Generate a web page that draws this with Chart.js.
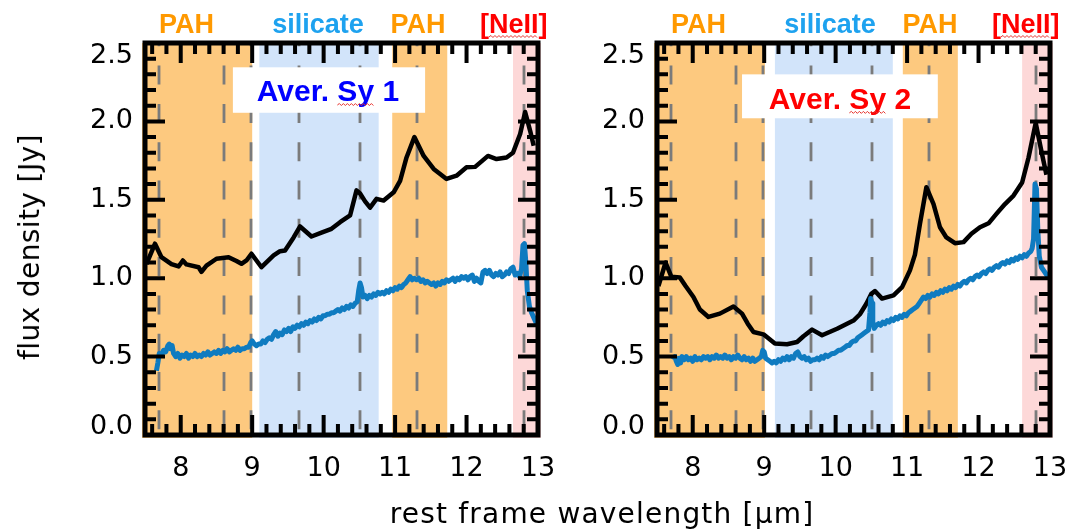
<!DOCTYPE html>
<html>
<head>
<meta charset="utf-8">
<script src="https://cdn.jsdelivr.net/npm/chart.js@4.4.1/dist/chart.umd.min.js"></script>
<style>
  html, body { margin: 0; padding: 0; background: #fff; }
  #wrap { position: relative; width: 1073px; height: 532px; overflow: hidden; }
  canvas { position: absolute; top: 0; }
  #c1 { left: 0; }
  #c2 { left: 540px; }
  .ttl { position: absolute; font-family: "DejaVu Sans", sans-serif; color: #000; white-space: nowrap; font-size: 28px; line-height: 34px; }
  #xt { left: 602px; top: 514px; transform: translate(-50%, -50%); letter-spacing: 1.2px; }
  #yt { left: 30px; top: 247px; transform: translate(-50%, -50%) rotate(-90deg); letter-spacing: 0.4px; }
</style>
</head>
<body>
<div id="wrap">
  <canvas id="c1" width="560" height="532"></canvas>
  <canvas id="c2" width="533" height="532"></canvas>
  <div id="xt" class="ttl">rest frame wavelength [µm]</div>
  <div id="yt" class="ttl">flux density [Jy]</div>
</div>
<script>
// ---- axis ticks ----
const xTickValues = [8, 9, 10, 11, 12, 13];
const xTickLabels = ['8', '9', '10', '11', '12', '13'];
const yTickValues = [0, 0.5, 1.0, 1.5, 2.0, 2.5];
const yTickLabels = ['0.0', '0.5', '1.0', '1.5', '2.0', '2.5'];

// ---- spectral feature bands and line positions (µm) ----
const bandNames = ['PAH', 'silicate', 'PAH', '[NeII]'];
const bandLabelAt = [8.08, 9.92, 11.32, 12.66];
const sy1BandFrom = [7.45, 9.10, 10.96, 12.65];
const sy1BandTo = [9.00, 10.77, 11.73, 13.05];
const sy2BandFrom = [7.45, 9.15, 10.94, 12.61];
const sy2BandTo = [9.01, 10.80, 11.71, 13.05];
const lineWaves = [7.7, 8.6, 8.99, 9.66, 10.51, 11.3, 12.81];

// ---- average Seyfert 1: low-resolution spectrum (black) ----
const sy1LowWave = [7.52, 7.64, 7.73, 7.87, 7.97, 8.03, 8.08, 8.25, 8.29, 8.36, 8.50, 8.67, 8.78, 8.85, 8.92, 8.99,
  9.13, 9.30, 9.39, 9.46, 9.58, 9.67, 9.83, 9.97, 10.11, 10.23, 10.37, 10.46, 10.51, 10.58, 10.65, 10.74, 10.84,
  10.98, 11.07, 11.16, 11.27, 11.40, 11.54, 11.72, 11.86, 12.00, 12.12, 12.30, 12.42, 12.56, 12.65, 12.75, 12.82,
  12.89, 12.94];
const sy1LowFlux = [1.09, 1.22, 1.134, 1.09, 1.075, 1.113, 1.088, 1.07, 1.04, 1.08, 1.124, 1.134, 1.11, 1.092, 1.113, 1.156,
  1.07, 1.145, 1.172, 1.177, 1.26, 1.33, 1.266, 1.29, 1.315, 1.357, 1.40, 1.56, 1.54, 1.49, 1.45, 1.506, 1.495,
  1.548, 1.62, 1.77, 1.90, 1.78, 1.697, 1.633, 1.654, 1.707, 1.71, 1.78, 1.76, 1.77, 1.80, 1.92, 2.06,
  1.94, 1.845];

// ---- average Seyfert 1: high-resolution spectrum (blue) ----
const sy1HighWave = [7.66, 7.68, 7.70, 7.73, 7.76, 7.79, 7.82, 7.84, 7.86, 7.88, 7.90, 7.93, 7.96, 7.99, 8.02, 8.05,
  8.08, 8.11, 8.14, 8.17, 8.20, 8.23, 8.26, 8.29, 8.32, 8.35, 8.38, 8.41, 8.44, 8.47, 8.50, 8.53, 8.56, 8.59, 8.62,
  8.65, 8.68, 8.71, 8.74, 8.77, 8.80, 8.83, 8.86, 8.89, 8.92, 8.95, 8.98, 9.00, 9.03, 9.06, 9.09, 9.12, 9.15, 9.18,
  9.21, 9.24, 9.27, 9.30, 9.33, 9.36, 9.39, 9.42, 9.45, 9.48, 9.51, 9.54, 9.57, 9.60, 9.63, 9.66, 9.69, 9.72, 9.75,
  9.78, 9.81, 9.84, 9.87, 9.90, 9.93, 9.96, 9.99, 10.02, 10.05, 10.08, 10.11, 10.14, 10.17, 10.20, 10.23, 10.26,
  10.29, 10.32, 10.35, 10.38, 10.41, 10.44, 10.47, 10.49, 10.51, 10.53, 10.55, 10.58, 10.61, 10.64, 10.67, 10.70,
  10.73, 10.76, 10.79, 10.82, 10.85, 10.88, 10.91, 10.94, 10.97, 11.00, 11.03, 11.06, 11.09, 11.12, 11.15, 11.18,
  11.21, 11.24, 11.27, 11.30, 11.33, 11.36, 11.39, 11.42, 11.45, 11.48, 11.51, 11.54, 11.57, 11.60, 11.63, 11.66,
  11.69, 11.72, 11.75, 11.78, 11.81, 11.84, 11.87, 11.90, 11.93, 11.96, 11.99, 12.02, 12.05, 12.08, 12.11, 12.14,
  12.17, 12.20, 12.23, 12.26, 12.29, 12.32, 12.35, 12.38, 12.41, 12.44, 12.47, 12.50, 12.53, 12.56, 12.59, 12.62,
  12.65, 12.68, 12.71, 12.74, 12.77, 12.79, 12.81, 12.83, 12.85, 12.88, 12.91, 12.94, 12.97, 12.99];
const sy1HighFlux = [0.41, 0.46, 0.52, 0.51, 0.54, 0.53, 0.57, 0.58, 0.55, 0.57, 0.52, 0.50, 0.52, 0.49, 0.51, 0.50,
  0.52, 0.49, 0.51, 0.50, 0.52, 0.50, 0.51, 0.50, 0.52, 0.51, 0.53, 0.51, 0.52, 0.53, 0.52, 0.54, 0.52, 0.54, 0.53,
  0.55, 0.53, 0.54, 0.55, 0.54, 0.56, 0.54, 0.55, 0.55, 0.56, 0.56, 0.59, 0.60, 0.58, 0.57, 0.58, 0.58, 0.60, 0.59,
  0.61, 0.62, 0.61, 0.64, 0.66, 0.63, 0.65, 0.64, 0.67, 0.66, 0.68, 0.66, 0.69, 0.68, 0.70, 0.69, 0.71, 0.70, 0.72,
  0.71, 0.73, 0.72, 0.74, 0.73, 0.75, 0.74, 0.76, 0.76, 0.77, 0.77, 0.78, 0.78, 0.79, 0.80, 0.79, 0.81,
  0.80, 0.82, 0.81, 0.83, 0.82, 0.84, 0.85, 0.92, 0.97, 0.94, 0.88, 0.89, 0.87, 0.89, 0.88, 0.90,
  0.89, 0.91, 0.90, 0.91, 0.90, 0.92, 0.91, 0.93, 0.92, 0.94, 0.93, 0.95, 0.94, 0.96, 0.97, 0.99,
  1.01, 0.99, 1.00, 0.99, 1.00, 0.98, 0.99, 0.97, 0.98, 0.97, 0.96, 0.97, 0.95, 0.97, 0.96, 0.98,
  0.97, 0.99, 0.98, 0.99, 1.00, 0.98, 1.00, 0.99, 1.01, 1.00, 1.01, 0.99, 1.01, 1.02, 0.98, 1.00,
  0.98, 0.97, 1.04, 1.05, 1.03, 1.05, 1.02, 1.01, 1.03, 1.02, 1.04, 1.01, 1.02, 1.04, 1.03, 1.06,
  1.07, 1.02, 1.03, 1.01, 1.06, 1.21, 1.22, 1.10, 0.92, 0.82, 0.78, 0.75, 0.72, 0.71];

// ---- average Seyfert 2: low-resolution spectrum (black) ----
const sy2LowWave = [7.52, 7.62, 7.70, 7.82, 7.90, 8.01, 8.10, 8.22, 8.38, 8.57, 8.69, 8.77, 8.85, 8.99, 9.15, 9.32,
  9.46, 9.55, 9.67, 9.81, 10.02, 10.25, 10.34, 10.43, 10.50, 10.55, 10.65, 10.81, 10.93, 11.04, 11.11, 11.18, 11.27,
  11.37, 11.46, 11.55, 11.67, 11.79, 11.90, 12.02, 12.14, 12.25, 12.37, 12.49, 12.61, 12.70, 12.80, 12.88, 12.95];
const sy2LowFlux = [0.95, 1.10, 1.01, 1.005, 0.95, 0.88, 0.80, 0.753, 0.774, 0.82, 0.774, 0.71, 0.657, 0.642, 0.583, 0.579,
  0.593, 0.63, 0.672, 0.636, 0.678, 0.73, 0.77, 0.837, 0.90, 0.918, 0.87, 0.89, 0.943, 1.05, 1.15, 1.346, 1.58,
  1.473, 1.325, 1.26, 1.223, 1.23, 1.283, 1.325, 1.35, 1.41, 1.473, 1.527, 1.61, 1.77, 1.99, 1.81, 1.66];

// ---- average Seyfert 2: high-resolution spectrum (blue) ----
const sy2HighWave = [7.73, 7.75, 7.77, 7.79, 7.81, 7.83, 7.85, 7.88, 7.91, 7.94, 7.97, 8.00, 8.03, 8.06, 8.09, 8.12,
  8.15, 8.18, 8.21, 8.24, 8.27, 8.30, 8.33, 8.36, 8.39, 8.42, 8.45, 8.48, 8.51, 8.54, 8.57, 8.60, 8.63, 8.66, 8.69,
  8.72, 8.75, 8.78, 8.81, 8.84, 8.87, 8.90, 8.93, 8.96, 8.98, 9.00, 9.02, 9.05, 9.08, 9.11, 9.14, 9.17, 9.20, 9.23,
  9.26, 9.29, 9.32, 9.35, 9.38, 9.41, 9.44, 9.47, 9.50, 9.53, 9.56, 9.59, 9.62, 9.65, 9.68, 9.71, 9.74, 9.77, 9.80,
  9.83, 9.86, 9.89, 9.92, 9.95, 9.98, 10.01, 10.04, 10.07, 10.10, 10.13, 10.16, 10.19, 10.22, 10.25, 10.28, 10.31,
  10.34, 10.37, 10.40, 10.43, 10.46, 10.48, 10.49, 10.51, 10.52, 10.54, 10.57, 10.60, 10.63, 10.66, 10.69, 10.72,
  10.75, 10.78, 10.81, 10.84, 10.87, 10.90, 10.93, 10.96, 10.99, 11.02, 11.05, 11.08, 11.11, 11.14, 11.17, 11.20,
  11.23, 11.26, 11.29, 11.32, 11.35, 11.38, 11.41, 11.44, 11.47, 11.50, 11.53, 11.56, 11.59, 11.62, 11.65, 11.68,
  11.71, 11.74, 11.77, 11.80, 11.83, 11.86, 11.89, 11.92, 11.95, 11.98, 12.01, 12.04, 12.07, 12.10, 12.13, 12.16,
  12.19, 12.22, 12.25, 12.28, 12.31, 12.34, 12.37, 12.40, 12.43, 12.46, 12.49, 12.52, 12.55, 12.58, 12.61, 12.64,
  12.67, 12.70, 12.73, 12.75, 12.77, 12.79, 12.81, 12.83, 12.85, 12.88, 12.91, 12.94, 12.97];
const sy2HighFlux = [0.48, 0.50, 0.47, 0.45, 0.49, 0.46, 0.50, 0.48, 0.50, 0.48, 0.49, 0.47, 0.50, 0.48, 0.49, 0.48,
  0.50, 0.49, 0.50, 0.48, 0.50, 0.49, 0.51, 0.49, 0.50, 0.49, 0.51, 0.49, 0.50, 0.48, 0.50, 0.49, 0.51, 0.49, 0.48,
  0.50, 0.48, 0.49, 0.47, 0.49, 0.47, 0.48, 0.49, 0.50, 0.54, 0.53, 0.49, 0.48, 0.47, 0.46, 0.47, 0.46, 0.48, 0.47,
  0.49, 0.48, 0.50, 0.48, 0.50, 0.49, 0.52, 0.53, 0.50, 0.49, 0.50, 0.48, 0.49, 0.47, 0.48, 0.48, 0.49, 0.48, 0.50,
  0.49, 0.51, 0.50, 0.51, 0.52, 0.52, 0.53, 0.54, 0.54, 0.55, 0.56, 0.57, 0.57, 0.59, 0.60, 0.60, 0.62,
  0.63, 0.64, 0.65, 0.66, 0.67, 0.78, 0.87, 0.84, 0.72, 0.68, 0.70, 0.71, 0.70, 0.72, 0.71, 0.73,
  0.72, 0.74, 0.73, 0.75, 0.74, 0.76, 0.75, 0.77, 0.76, 0.78, 0.79, 0.80, 0.81, 0.82, 0.84, 0.86,
  0.88, 0.87, 0.89, 0.88, 0.90, 0.89, 0.91, 0.90, 0.92, 0.91, 0.93, 0.92, 0.94, 0.93, 0.95, 0.94,
  0.96, 0.95, 0.97, 0.98, 0.97, 0.99, 1.00, 0.99, 1.01, 1.02, 1.01, 1.03, 1.04, 1.03, 1.05, 1.06,
  1.05, 1.07, 1.08, 1.07, 1.09, 1.10, 1.09, 1.11, 1.10, 1.12, 1.11, 1.13, 1.12, 1.14, 1.13, 1.15,
  1.14, 1.16, 1.17, 1.19, 1.25, 1.60, 1.57, 1.30, 1.14, 1.07, 1.05, 1.03, 1.01];

// ---- colours ----
const bandFill = { 'PAH': '#fdc97f', 'silicate': '#d2e4fa', '[NeII]': '#fdd8d8' };
const bandText = { 'PAH': '#ff9900', 'silicate': '#1ea2ef', '[NeII]': '#ff0000' };

const pts = (w, f) => w.map((v, i) => ({ x: v, y: f[i] }));

// small red zig-zag, as left by a spell checker under a word
function squiggle(ctx, x0, x1, yy) {
  ctx.save();
  ctx.strokeStyle = '#e8342f';
  ctx.lineWidth = 1;
  ctx.setLineDash([]);
  ctx.beginPath();
  let up = true;
  ctx.moveTo(x0, yy);
  for (let xx = x0 + 2; xx <= x1; xx += 2) {
    ctx.lineTo(xx, up ? yy - 1.5 : yy + 0.5);
    up = !up;
  }
  ctx.stroke();
  ctx.restore();
}

function markedText(ctx, text, mark, cx, base) {
  ctx.textAlign = 'center';
  ctx.textBaseline = 'alphabetic';
  ctx.fillText(text, cx, base);
  const k = text.indexOf(mark);
  if (k < 0) return;
  const full = ctx.measureText(text).width;
  const pre = ctx.measureText(text.slice(0, k)).width;
  const w = ctx.measureText(mark).width;
  const s = cx - full / 2 + pre;
  squiggle(ctx, s, s + w, base + 4);
}

const panelDeco = {
  id: 'panelDeco',
  beforeDatasetsDraw(chart, args, o) {
    const { ctx, chartArea: a, scales: { x, y } } = chart;
    ctx.save();
    ctx.beginPath();
    ctx.rect(a.left - 3, a.top, a.width + 6, a.height + 3);
    ctx.clip();
    bandNames.forEach((n, i) => {
      const x0 = x.getPixelForValue(o.bandFrom[i]);
      const x1 = x.getPixelForValue(o.bandTo[i]);
      ctx.fillStyle = bandFill[n];
      ctx.fillRect(x0, a.top, x1 - x0, a.height + 3);
    });
    ctx.restore();

    ctx.save();
    ctx.strokeStyle = '#7b7b7b';
    ctx.lineWidth = 2.8;
    ctx.setLineDash([19, 19.3]);
    ctx.lineDashOffset = 15.7;
    lineWaves.forEach(w => {
      const px = Math.round(x.getPixelForValue(w));
      ctx.beginPath();
      ctx.moveTo(px, a.top);
      ctx.lineTo(px, a.bottom);
      ctx.stroke();
    });
    ctx.restore();
  },
  afterDatasetsDraw(chart, args, o) {
    const { ctx, chartArea: a, scales: { x, y } } = chart;
    ctx.save();

    // caption box
    const bx0 = x.getPixelForValue(o.box.x0), bx1 = x.getPixelForValue(o.box.x1);
    const by0 = y.getPixelForValue(o.box.y1), by1 = y.getPixelForValue(o.box.y0);
    ctx.fillStyle = '#fff';
    ctx.fillRect(bx0, by0, bx1 - bx0, by1 - by0);
    ctx.font = 'bold 30px "Liberation Sans", Arial, sans-serif';
    ctx.fillStyle = o.box.color;
    markedText(ctx, o.box.text, 'Sy', x.getPixelForValue(o.box.tx), y.getPixelForValue(o.box.ty) + 11);

    // frame ticks (inward, all four sides)
    ctx.strokeStyle = '#000';
    ctx.lineCap = 'butt';
    ctx.lineWidth = 4;
    const tickX = (v, len) => {
      const px = x.getPixelForValue(v);
      ctx.beginPath();
      ctx.moveTo(px, a.bottom); ctx.lineTo(px, a.bottom - len);
      ctx.moveTo(px, a.top); ctx.lineTo(px, a.top + len);
      ctx.stroke();
    };
    const tickY = (v, len) => {
      const py = y.getPixelForValue(v);
      ctx.beginPath();
      ctx.moveTo(a.left, py); ctx.lineTo(a.left + len, py);
      ctx.moveTo(a.right, py); ctx.lineTo(a.right - len, py);
      ctx.stroke();
    };
    for (let k = 38; k <= 65; k++) {
      if (k % 5 !== 0) tickX(k / 5, 11);
    }
    xTickValues.forEach(v => tickX(v, 20));
    for (let k = 1; k < 25; k++) {
      if (k % 5 !== 0) tickY(k / 10, 11);
    }
    yTickValues.forEach(v => tickY(v, 20));

    ctx.lineWidth = 5;
    ctx.lineJoin = 'miter';
    ctx.strokeRect(a.left, a.top, a.width, a.height);

    // tick labels
    ctx.fillStyle = '#000';
    ctx.font = '27px "DejaVu Sans", sans-serif';
    ctx.textBaseline = 'middle';
    ctx.textAlign = 'right';
    yTickValues.forEach((v, i) => {
      let py = y.getPixelForValue(v);
      py = Math.min(Math.max(py, a.top + 13), a.bottom - 8);
      ctx.fillText(yTickLabels[i], a.left - 12, py);
    });
    ctx.textAlign = 'center';
    xTickValues.forEach((v, i) => {
      ctx.fillText(xTickLabels[i], x.getPixelForValue(v), a.bottom + 34);
    });

    // band names above the frame
    ctx.font = 'bold 27px "Liberation Sans", Arial, sans-serif';
    bandNames.forEach((n, i) => {
      ctx.fillStyle = bandText[n];
      markedText(ctx, n, 'NeII', x.getPixelForValue(bandLabelAt[i]), a.top - 10);
    });
    ctx.restore();
  }
};

function makePanel(id, pad, high, low, bandFrom, bandTo, box) {
  return new Chart(document.getElementById(id), {
    type: 'line',
    data: {
      datasets: [
        { data: high, borderColor: '#0f7bc0', borderWidth: 5, pointRadius: 0, tension: 0, borderJoinStyle: 'round' },
        { data: low, borderColor: '#000000', borderWidth: 4.5, pointRadius: 0, tension: 0, borderJoinStyle: 'round' }
      ]
    },
    options: {
      responsive: false,
      animation: false,
      devicePixelRatio: 1,
      layout: { padding: pad },
      plugins: {
        legend: { display: false },
        tooltip: { enabled: false },
        panelDeco: { bandFrom, bandTo, box }
      },
      scales: {
        x: { type: 'linear', min: 7.5, max: 13.0, display: false },
        y: { type: 'linear', min: 0, max: 2.5, display: false }
      }
    },
    plugins: [panelDeco]
  });
}

makePanel('c1', { left: 145, right: 22, top: 43, bottom: 97 },
  pts(sy1HighWave, sy1HighFlux), pts(sy1LowWave, sy1LowFlux), sy1BandFrom, sy1BandTo,
  { text: 'Aver. Sy 1', color: '#0000ff', x0: 8.73, x1: 11.42, y0: 2.055, y1: 2.345, tx: 10.06, ty: 2.20 });

makePanel('c2', { left: 117, right: 23, top: 43, bottom: 97 },
  pts(sy2HighWave, sy2HighFlux), pts(sy2LowWave, sy2LowFlux), sy2BandFrom, sy2BandTo,
  { text: 'Aver. Sy 2', color: '#ff0000', x0: 8.69, x1: 11.43, y0: 2.02, y1: 2.30, tx: 10.06, ty: 2.15 });
</script>
</body>
</html>
